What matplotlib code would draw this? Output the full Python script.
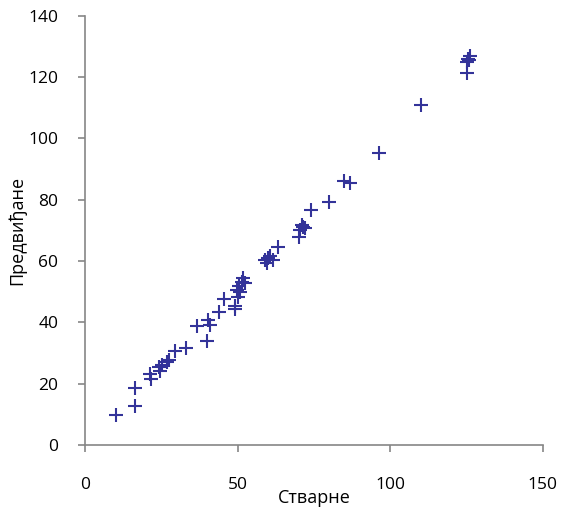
import numpy as np
import matplotlib.pyplot as plt

actual = [10.3, 16.3, 16.3, 21.4, 21.6, 24.2, 24.5, 25.2, 26.9, 27.4,
          29.4, 33.1, 36.7, 40.0, 40.3, 41.1, 43.8, 45.5, 49.1, 49.2,
          49.7, 50.3, 50.6, 50.8, 51.4, 51.7, 52.5,
          59.0, 59.6, 60.1, 60.7, 61.7, 63.4,
          70.2, 70.5, 71.0, 71.6, 72.1, 74.1, 79.9, 84.9, 86.7,
          96.2, 110.2, 125.1, 125.3, 125.5, 125.8, 126.0]
predicted = [9.8, 12.7, 18.5, 23.2, 21.6, 25.4, 24.3, 26.1, 27.2, 27.7,
             30.8, 31.5, 38.8, 33.9, 40.8, 39.2, 43.3, 47.5, 44.3, 45.4,
             50.6, 48.4, 51.7, 50.0, 53.3, 54.4, 52.8,
             60.4, 59.3, 60.9, 61.5, 60.4, 64.5,
             68.0, 70.2, 71.8, 71.2, 70.7, 76.5, 79.4, 86.2, 85.4,
             95.2, 111.0, 121.3, 124.8, 126.0, 125.5, 126.8]

x_ticks = [0, 50, 100, 150]
y_ticks = [0, 20, 40, 60, 80, 100, 120, 140]

plt.rcParams['font.family'] = ['Open Sans', 'DejaVu Sans']

fig = plt.figure(figsize=(5.62, 5.08), dpi=100)
ax = fig.add_axes([0.151, 0.124, 0.815, 0.845])

ax.plot(actual, predicted, linestyle='none', marker='+', color='#333399',
        markersize=10, markeredgewidth=1.5)

ax.set_xlim(0, 150)
ax.set_ylim(0, 140)
ax.set_xticks(x_ticks)
ax.set_yticks(y_ticks)

for side in ['top', 'right']:
    ax.spines[side].set_visible(False)
for side in ['left', 'bottom']:
    ax.spines[side].set_color('#868686')
    ax.spines[side].set_linewidth(1.2)

ax.tick_params(axis='both', colors='#868686', length=5, width=1.2,
               labelcolor='black', labelsize=12.5)
ax.tick_params(axis='x', pad=18)
ax.tick_params(axis='y', pad=14)

ax.set_xlabel('Стварне', fontsize=13)
ax.xaxis.set_label_coords(0.5, -0.102)
ax.set_ylabel('Предвиђане', fontsize=13)
ax.yaxis.set_label_coords(-0.127, 0.5)

fig.savefig('out.png', dpi=100)
